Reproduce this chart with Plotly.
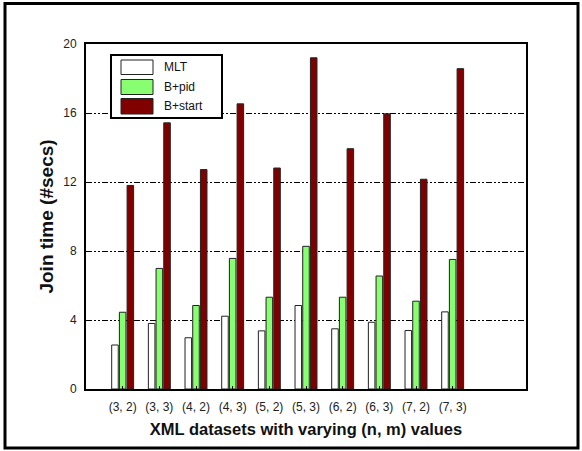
import plotly.graph_objects as go

categories = ["(3, 2)", "(3, 3)", "(4, 2)", "(4, 3)", "(5, 2)",
              "(5, 3)", "(6, 2)", "(6, 3)", "(7, 2)", "(7, 3)"]
mlt = [2.55, 3.8, 2.97, 4.22, 3.37, 4.84, 3.49, 3.87, 3.39, 4.47]
bpid = [4.45, 6.99, 4.84, 7.57, 5.32, 8.27, 5.32, 6.55, 5.09, 7.51]
bstart = [11.8, 15.43, 12.72, 16.53, 12.81, 19.2, 13.93, 15.95, 12.16, 18.57]
series_names = ["MLT", "B+pid", "B+start"]
series_colors = ["#ffffff", "#88ff70", "#800000"]
yticks = [0, 4, 8, 12, 16, 20]

W, H = 582, 451
L, R, T, B = 86, 526, 44, 389

xpos = list(range(len(categories)))

fig = go.Figure()
for name, vals, col in zip(series_names, [mlt, bpid, bstart], series_colors):
    fig.add_trace(go.Bar(x=xpos, y=vals, name=name, marker_color=col,
                         marker_line_color="#222222", marker_line_width=1,
                         showlegend=False))

def px(x):
    return (x - L) / (R - L)

def py(y):
    return (B - y) / (B - T)

shapes = []
annotations = []
# outer frame
shapes.append(dict(type="rect", xref="paper", yref="paper",
                   x0=px(5), x1=px(578), y0=py(448), y1=py(3.5),
                   line=dict(color="black", width=3)))
# legend box
shapes.append(dict(type="rect", xref="paper", yref="paper",
                   x0=px(111), x1=px(222), y0=py(118), y1=py(55),
                   line=dict(color="black", width=2), fillcolor="white"))
rows = [(60, 74.5), (79.5, 94.5), (98.5, 114)]
for (y0, y1), name, col in zip(rows, series_names, series_colors):
    shapes.append(dict(type="rect", xref="paper", yref="paper",
                       x0=px(121), x1=px(153), y0=py(y1), y1=py(y0),
                       line=dict(color="#222222", width=1), fillcolor=col))
    annotations.append(dict(xref="paper", yref="paper", x=px(162),
                            y=py((y0 + y1) / 2), text=name, showarrow=False,
                            xanchor="left", yanchor="middle",
                            font=dict(size=12, color="#111111")))

fig.update_layout(
    width=W, height=H,
    margin=dict(l=L, r=W - R, t=T, b=H - B, pad=0),
    paper_bgcolor="white", plot_bgcolor="white",
    font=dict(family="Liberation Sans, Arial, sans-serif", size=12, color="#222222"),
    barmode="group", bargap=0.37, bargroupgap=0.15,
    shapes=shapes, annotations=annotations,
    xaxis=dict(range=[-1, 11], tickvals=xpos, ticktext=categories,
               showgrid=False, zeroline=False,
               showline=True, linecolor="black", linewidth=2, mirror=True,
               ticks="inside", ticklen=3, tickcolor="black",
               ticklabelstandoff=6,
               title=dict(text="<b>XML datasets with varying (n, m) values</b>",
                          font=dict(size=16.5, color="#111111"), standoff=10)),
    yaxis=dict(range=[0, 20], tickvals=yticks,
               showgrid=True, gridcolor="black", gridwidth=1,
               griddash="6px,2px,2px,2px,2px,2px",
               zeroline=False,
               showline=True, linecolor="black", linewidth=2, mirror=True,
               ticks="", ticklabelstandoff=5,
               title=dict(text="<b>Join time (#secs)</b>",
                          font=dict(size=19, color="#111111"), standoff=5)),
)

fig.write_html("out.html", config={"displayModeBar": False},
               post_script="document.body.style.margin='0';document.body.style.padding='0';")
